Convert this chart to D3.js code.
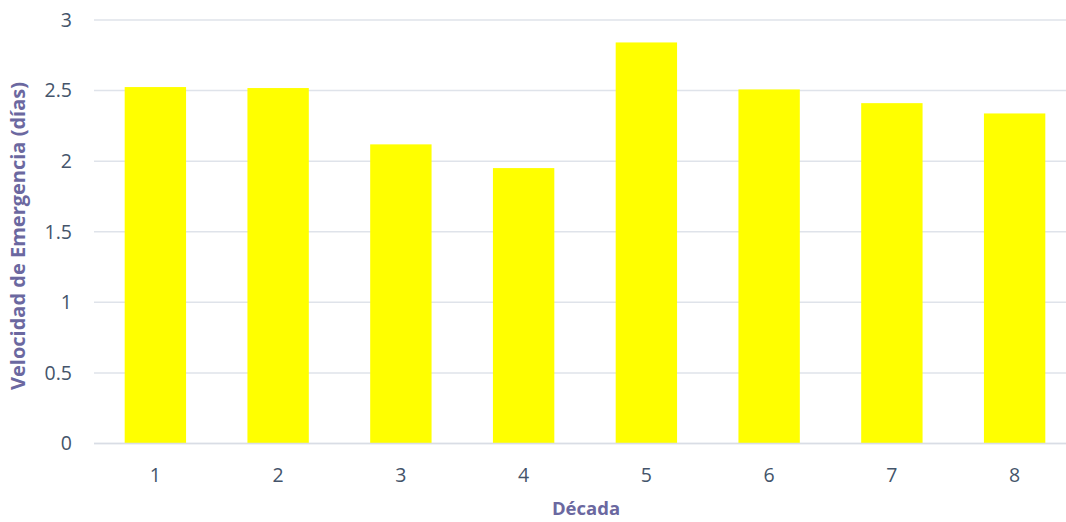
<!DOCTYPE html>
<html>
<head>
<meta charset="utf-8">
<script src="https://cdn.jsdelivr.net/npm/d3@7"></script>
<style>
  html, body { margin: 0; padding: 0; background: #fff; }
  svg { display: block; }
</style>
</head>
<body>
<svg id="chart" width="1066" height="522"></svg>
<script>
// Emergence speed per decade
const decadas = ["1", "2", "3", "4", "5", "6", "7", "8"];
const velocidad = [2.525, 2.518, 2.119, 1.951, 2.841, 2.508, 2.411, 2.338];
const yTicks = [0, 0.5, 1, 1.5, 2, 2.5, 3];

const svg = d3.select("#chart");
const W = 1066, H = 522;
const plot = { left: 94, right: 1076, top: 20, bottom: 443.5 };

const x = d3.scaleBand()
  .domain(decadas)
  .range([plot.left, plot.right])
  .paddingInner(0.5)
  .paddingOuter(0.25);

const y = d3.scaleLinear()
  .domain([0, 3])
  .range([plot.bottom, plot.top]);

const fontFam = "'Open Sans', 'Liberation Sans', sans-serif";

// horizontal gridlines
svg.append("g")
  .selectAll("line")
  .data(yTicks)
  .join("line")
  .attr("x1", plot.left)
  .attr("x2", W)
  .attr("y1", d => y(d))
  .attr("y2", d => y(d))
  .attr("stroke", "#dfe3ea")
  .attr("stroke-width", 1.5);

// bars
svg.append("g")
  .selectAll("rect")
  .data(decadas)
  .join("rect")
  .attr("x", d => x(d))
  .attr("width", x.bandwidth())
  .attr("y", (d, i) => y(velocidad[i]))
  .attr("height", (d, i) => y(0) - y(velocidad[i]))
  .attr("fill", "#ffff00");

// y axis labels
const yAxis = svg.append("g")
  .attr("transform", `translate(${plot.left},0)`)
  .call(d3.axisLeft(y).tickValues(yTicks).tickFormat(d3.format("")).tickSize(0).tickPadding(22));
yAxis.select(".domain").remove();
yAxis.selectAll("text")
  .attr("font-family", fontFam)
  .attr("font-size", 19.5)
  .attr("fill", "#44546a");

// x axis labels
const xAxis = svg.append("g")
  .attr("transform", `translate(0,${plot.bottom})`)
  .call(d3.axisBottom(x).tickSize(0).tickPadding(25));
xAxis.select(".domain").remove();
xAxis.selectAll("text")
  .attr("font-family", fontFam)
  .attr("font-size", 19.5)
  .attr("fill", "#44546a");

// baseline
svg.append("line")
  .attr("x1", plot.left).attr("x2", W)
  .attr("y1", y(0)).attr("y2", y(0))
  .attr("stroke", "#d9dde5").attr("stroke-width", 1.5);

// axis titles
svg.append("text")
  .attr("transform", `translate(25,236) rotate(-90)`)
  .attr("text-anchor", "middle")
  .attr("font-family", fontFam)
  .attr("font-weight", "bold")
  .attr("font-size", 20)
  .attr("fill", "#6b68a0")
  .text("Velocidad de Emergencia (días)");

svg.append("text")
  .attr("x", 586)
  .attr("y", 515)
  .attr("text-anchor", "middle")
  .attr("font-family", fontFam)
  .attr("font-weight", "bold")
  .attr("font-size", 18.5)
  .attr("fill", "#6b68a0")
  .text("Década");
</script>
</body>
</html>
